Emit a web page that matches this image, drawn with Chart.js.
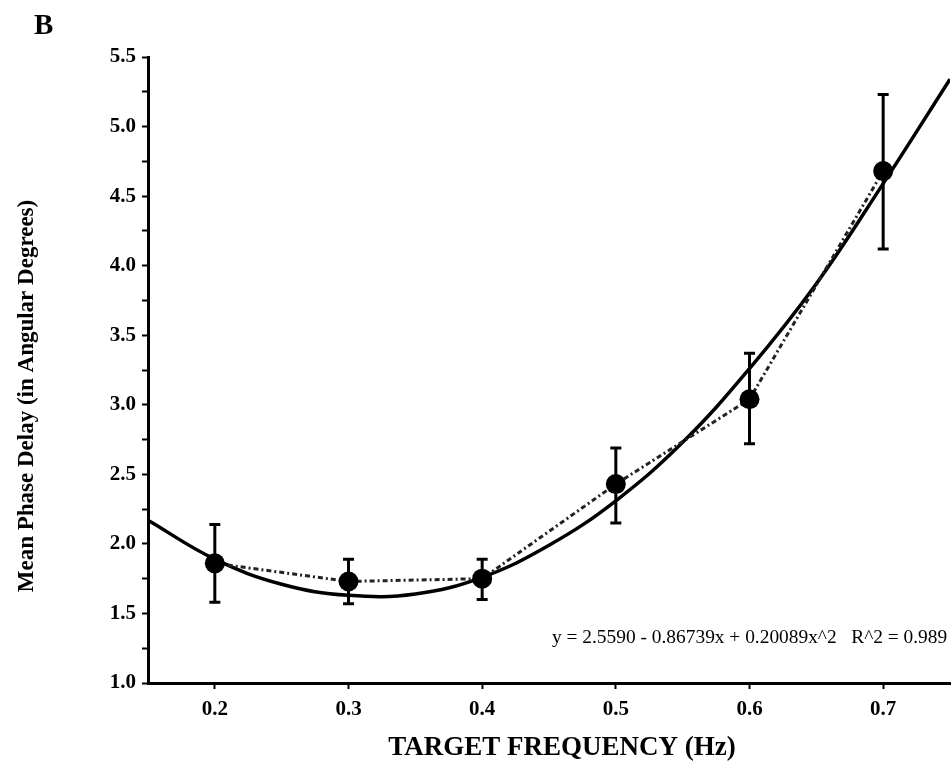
<!DOCTYPE html>
<html>
<head>
<meta charset="utf-8">
<script src="https://cdn.jsdelivr.net/npm/chart.js@4"></script>
<style>
  html, body { margin: 0; padding: 0; background: #fff; overflow: hidden; }
</style>
</head>
<body>
<canvas id="phaseChart" width="960" height="782"></canvas>
<script>
// measured means and error bar ends
const frequencies = [0.2, 0.3, 0.4, 0.5, 0.6, 0.7];
const meanDelay = [1.86, 1.73, 1.75, 2.43, 3.04, 4.68];
const errUpper = [2.14, 1.89, 1.89, 2.69, 3.37, 5.23];
const errLower = [1.58, 1.57, 1.60, 2.15, 2.72, 4.12];

// regression curve
const fitFreq = [0.15, 0.2, 0.25, 0.3, 0.35, 0.4, 0.45, 0.5, 0.55, 0.6, 0.65, 0.7, 0.75];
const fitDelay = [2.17, 1.89, 1.71, 1.63, 1.64, 1.76, 1.99, 2.31, 2.73, 3.26, 3.87, 4.59, 5.34];

const xTicks = [0.2, 0.3, 0.4, 0.5, 0.6, 0.7];
const yTicks = [1.0, 1.5, 2.0, 2.5, 3.0, 3.5, 4.0, 4.5, 5.0, 5.5];
const yMinorTicks = [1.25, 1.75, 2.25, 2.75, 3.25, 3.75, 4.25, 4.75, 5.25];

const panelLabel = 'B';
const xTitle = 'TARGET FREQUENCY (Hz)';
const yTitle = 'Mean Phase Delay (in Angular Degrees)';
const fitLabel = 'y = 2.5590 - 0.86739x + 0.20089x^2   R^2 = 0.989';

const serif = "'Liberation Serif', 'Times New Roman', serif";

const toPoints = (xs, ys) => xs.map((x, i) => ({ x: x, y: ys[i] }));

// error bars + the loose text of the figure
const extras = {
    id: 'extras',
    afterDatasetsDraw(chart) {
        const ctx = chart.ctx;
        const xs = chart.scales.x, ys = chart.scales.y;
        ctx.save();
        ctx.strokeStyle = '#000';
        ctx.lineWidth = 3;
        frequencies.forEach((f, i) => {
            const px = xs.getPixelForValue(f);
            const top = ys.getPixelForValue(errUpper[i]);
            const bot = ys.getPixelForValue(errLower[i]);
            ctx.beginPath();
            ctx.moveTo(px, top); ctx.lineTo(px, bot);
            ctx.moveTo(px - 5.5, top); ctx.lineTo(px + 5.5, top);
            ctx.moveTo(px - 5.5, bot); ctx.lineTo(px + 5.5, bot);
            ctx.stroke();
        });
        ctx.restore();
    },
    afterDraw(chart) {
        const ctx = chart.ctx;
        ctx.save();
        ctx.fillStyle = '#000';
        ctx.textBaseline = 'alphabetic';
        ctx.textAlign = 'left';
        ctx.font = "bold 29px " + serif;
        ctx.fillText(panelLabel, 34, 34);
        ctx.font = "19.4px " + serif;
        ctx.fillText(fitLabel, 552, 643);

        ctx.textAlign = 'center';
        ctx.font = "bold 27px " + serif;
        ctx.fillText(xTitle, 562, 755);

        ctx.translate(33, 396);
        ctx.rotate(-Math.PI / 2);
        ctx.font = "bold 23px " + serif;
        ctx.fillText(yTitle, 0, 0);
        ctx.restore();
    }
};

let ctx = document.getElementById('phaseChart').getContext('2d');
let chart = new Chart(ctx, {
    type: 'scatter',
    data: {
        datasets: [
            {
                data: toPoints(frequencies, meanDelay),
                pointRadius: 10,
                pointBackgroundColor: '#000',
                pointBorderWidth: 0,
                showLine: false,
                order: 0
            },
            {
                data: toPoints(frequencies, meanDelay),
                showLine: true,
                borderColor: '#222',
                borderWidth: 3,
                borderDash: [5, 3, 2, 3],
                pointRadius: 0,
                tension: 0,
                order: 1
            },
            {
                data: toPoints(fitFreq, fitDelay),
                showLine: true,
                borderColor: '#000',
                borderWidth: 3.5,
                pointRadius: 0,
                tension: 0.4,
                order: 2
            }
        ]
    },
    options: {
        responsive: false,
        animation: false,
        layout: { padding: { top: 57, right: 4, left: 0, bottom: 0 } },
        plugins: { legend: { display: false }, tooltip: { enabled: false } },
        scales: {
            x: {
                type: 'linear',
                min: 0.15,
                max: 0.75,
                afterBuildTicks: s => { s.ticks = xTicks.map(v => ({ value: v })); },
                afterFit: s => { s.height = 99; },
                border: { color: '#000', width: 3 },
                grid: { drawOnChartArea: false, tickLength: 6, tickWidth: 2, tickColor: '#000' },
                ticks: {
                    color: '#000',
                    padding: 8,
                    font: { family: serif, weight: 'bold', size: 21 },
                    callback: v => v.toFixed(1)
                }
            },
            y: {
                type: 'linear',
                min: 1.0,
                max: 5.5,
                afterBuildTicks: s => {
                    s.ticks = yTicks.concat(yMinorTicks).sort((a, b) => a - b).map(v => ({ value: v }));
                },
                afterFit: s => { s.width = 148; },
                border: { color: '#000', width: 3 },
                grid: { drawOnChartArea: false, tickLength: 6, tickWidth: 2, tickColor: '#000' },
                ticks: {
                    color: '#000',
                    padding: 6,
                    font: { family: serif, weight: 'bold', size: 21 },
                    callback: v => yTicks.includes(v) ? v.toFixed(1) : ''
                }
            }
        }
    },
    plugins: [extras]
});
</script>
</body>
</html>
